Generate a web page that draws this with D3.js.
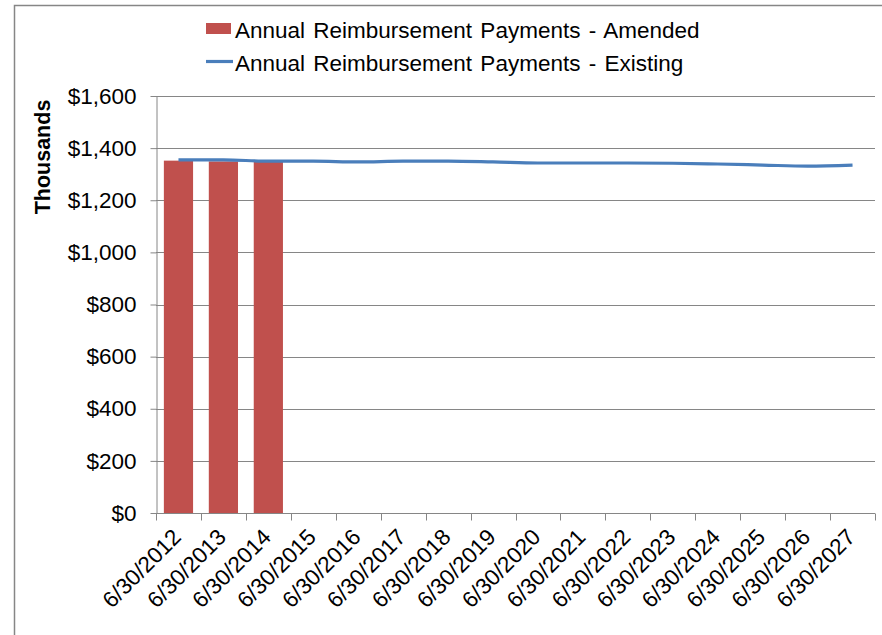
<!DOCTYPE html>
<html><head><meta charset="utf-8">
<script src="https://cdn.jsdelivr.net/npm/d3@7"></script>
<style>body{margin:0;background:#fff;}svg{display:block;font-family:"Liberation Sans",Arial,sans-serif;}</style>
</head><body>
<script>
const categories = ["6/30/2012","6/30/2013","6/30/2014","6/30/2015","6/30/2016","6/30/2017","6/30/2018","6/30/2019","6/30/2020","6/30/2021","6/30/2022","6/30/2023","6/30/2024","6/30/2025","6/30/2026","6/30/2027"];
const amended = [1352, 1349, 1348];
const existing = [1355, 1355, 1350, 1350, 1347, 1350, 1350, 1347, 1343, 1343, 1343, 1342, 1339, 1335, 1331, 1335];
const yTicks = [0,200,400,600,800,1000,1200,1400,1600];
const seriesNames = ["Annual Reimbursement Payments - Amended","Annual Reimbursement Payments - Existing"];

const W=882,H=635;
const svg=d3.select("body").append("svg").attr("width",W).attr("height",H);
// frame
svg.append("rect").attr("x",14.5).attr("y",5.5).attr("width",W).attr("height",H).attr("fill","none").attr("stroke","#868686").attr("stroke-width",1.5);

const m={l:156,r:875,t:96,b:513};
const xb=d3.scaleBand().domain(categories).range([m.l,m.r]);
const y=d3.scaleLinear().domain([0,1600]).range([m.b,m.t]);

// grid
svg.append("g").selectAll("line").data(yTicks.slice(1)).join("line")
 .attr("x1",m.l).attr("x2",m.r).attr("y1",d=>Math.round(y(d))+0.5).attr("y2",d=>Math.round(y(d))+0.5)
 .attr("stroke","#868686").attr("stroke-width",1);

// bars
svg.append("g").selectAll("rect").data(amended).join("rect")
 .attr("x",(d,i)=>xb(categories[i])+xb.bandwidth()*0.175).attr("width",xb.bandwidth()*0.65)
 .attr("y",d=>y(d)).attr("height",d=>y(0)-y(d)).attr("fill","#c0504d");

// line
const line=d3.line().x((d,i)=>xb(categories[i])+xb.bandwidth()/2).y(d=>y(d)).curve(d3.curveMonotoneX);
svg.append("path").datum(existing).attr("d",line).attr("fill","none").attr("stroke","#4a7ebb").attr("stroke-width",3.2).attr("stroke-linecap","butt");

// y axis
const ya=svg.append("g").attr("transform",`translate(${m.l+0.5},0)`)
 .call(d3.axisLeft(y).tickValues(yTicks).tickSize(6).tickSizeOuter(0).tickPadding(14).tickFormat(d=>"$"+d3.format(",")(d)));
ya.select(".domain").attr("stroke","#868686");
ya.selectAll(".tick line").attr("stroke","#868686");
ya.selectAll("text").attr("font-size",22.5).attr("fill","#000").attr("font-family","Liberation Sans, Arial, sans-serif");

// x axis
const xa=svg.append("g").attr("transform",`translate(0,${m.b+0.5})`);
xa.append("line").attr("x1",m.l).attr("x2",m.r).attr("stroke","#868686");
const bounds=d3.range(categories.length+1).map(i=>m.l+i*xb.step());
xa.selectAll("line.tk").data(bounds).join("line").attr("class","tk")
 .attr("x1",d=>Math.round(d)+0.5).attr("x2",d=>Math.round(d)+0.5).attr("y1",0).attr("y2",7).attr("stroke","#868686");
xa.selectAll("text").data(categories).join("text")
 .attr("transform",d=>`translate(${xb(d)+xb.bandwidth()/2+4},${25}) rotate(-45)`)
 .attr("text-anchor","end").attr("font-size",22.5).attr("fill","#000").text(d=>d);

// y title
svg.append("text").attr("transform","translate(50,157) rotate(-90)").attr("text-anchor","middle")
 .attr("font-size",21.5).attr("font-weight","bold").text("Thousands");

// legend
const lg=svg.append("g");
lg.append("rect").attr("x",206).attr("y",23).attr("width",25).attr("height",11).attr("fill","#c0504d");
lg.append("text").attr("x",235).attr("y",38).attr("font-size",22.5).attr("word-spacing",2).text(seriesNames[0]);
lg.append("line").attr("x1",206).attr("x2",233).attr("y1",61.5).attr("y2",61.5).attr("stroke","#4a7ebb").attr("stroke-width",3.2);
lg.append("text").attr("x",235).attr("y",71).attr("font-size",22.5).attr("word-spacing",2).text(seriesNames[1]);
</script>
</body></html>
